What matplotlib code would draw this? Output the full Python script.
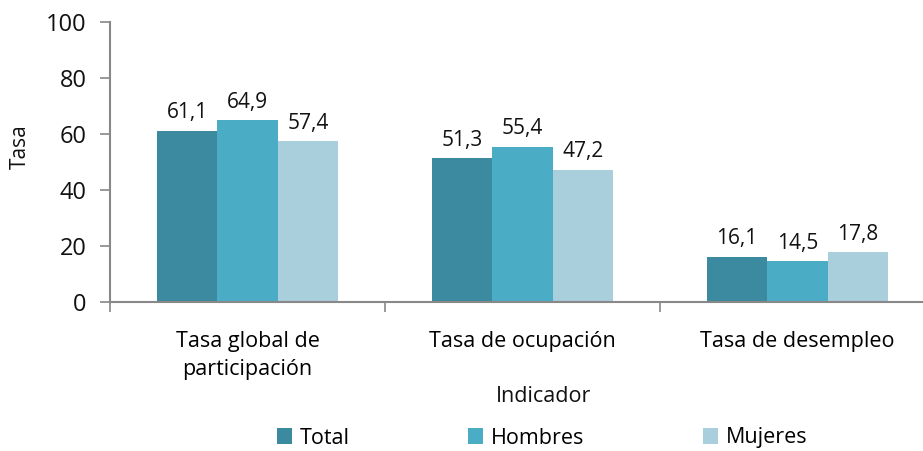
import matplotlib
matplotlib.use("Agg")
import matplotlib.pyplot as plt
import numpy as np

categories = ["Tasa global de\nparticipación", "Tasa de ocupación", "Tasa de desempleo"]
series = ["Total", "Hombres", "Mujeres"]
total = [61.1, 51.3, 16.1]
hombres = [64.9, 55.4, 14.5]
mujeres = [57.4, 47.2, 17.8]
colors = ["#3B8AA0", "#4BACC6", "#A9CEDC"]

plt.rcParams["font.family"] = ["Open Sans", "DejaVu Sans"]

fig = plt.figure(figsize=(9.23, 4.51), dpi=100)
ax = fig.add_axes([110 / 923, 1 - 302 / 451, 825 / 923, 280 / 451])

x = np.arange(len(categories))
w = 0.22
for i, (name, vals) in enumerate(zip(series, [total, hombres, mujeres])):
    pos = x + (i - 1) * w
    bars = ax.bar(pos, vals, w, color=colors[i], label=name)
    for b, v in zip(bars, vals):
        ax.annotate(f"{v:.1f}".replace(".", ","), (b.get_x() + b.get_width() / 2, v),
                    xytext=(0, 9), textcoords="offset points",
                    ha="center", va="baseline", fontsize=15, color="#111111")

ax.set_xlim(-0.5, 2.5)
ax.set_ylim(0, 100)
ax.set_yticks(range(0, 101, 20))
ax.set_xticks([-0.5, 0.5, 1.5, 2.5], minor=False)
ax.set_xticklabels([])
ax.set_xticks(x, minor=True)
ax.set_xticklabels(categories, minor=True, fontsize=15.5, linespacing=1.4)
ax.tick_params(axis="x", which="minor", length=0, pad=21)
ax.tick_params(axis="x", which="major", length=7, color="#888888", width=1.2)
ax.tick_params(axis="y", length=7, color="#888888", width=1.2, labelsize=17, pad=10,
               labelcolor="#111111")

for s in ["top", "right"]:
    ax.spines[s].set_visible(False)
for s in ["left", "bottom"]:
    ax.spines[s].set_color("#888888")
    ax.spines[s].set_linewidth(1.5)

fig.text(20 / 923, 1 - 147 / 451, "Tasa", rotation=90, ha="center", va="center",
         fontsize=15, color="#111111")
fig.text(544 / 923, 1 - 396 / 451, "Indicador", ha="center", va="center",
         fontsize=15.5, color="#111111")

leg = fig.legend(loc="center", bbox_to_anchor=(542 / 923, 1 - 438 / 451), ncol=3,
                 frameon=False, fontsize=15.5, handlelength=0.72, handleheight=0.72,
                 columnspacing=5.5, handletextpad=0.35, borderpad=0)

fig.savefig("out.png", dpi=100)
